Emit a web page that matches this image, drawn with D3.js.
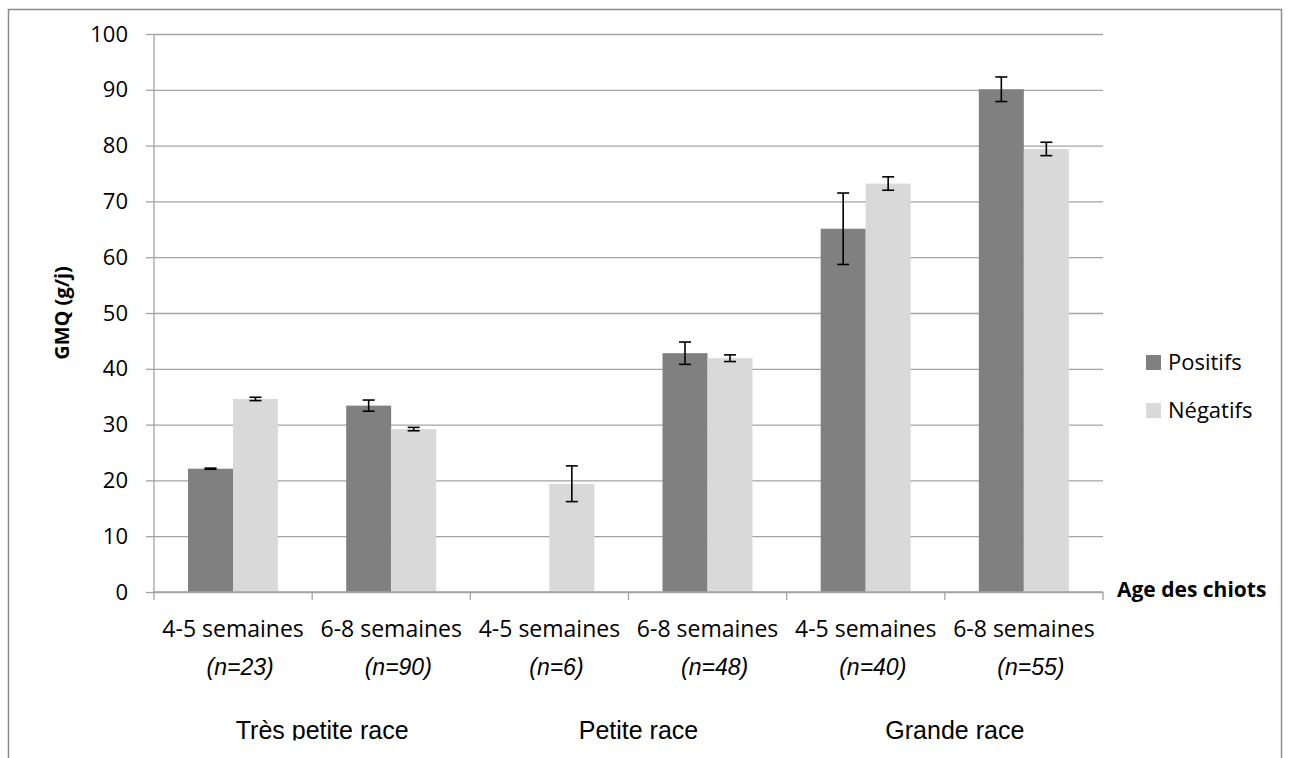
<!DOCTYPE html>
<html>
<head>
<meta charset="utf-8">
<script src="https://d3js.org/d3.v7.min.js"></script>
<title>GMQ des chiots</title>
</head>
<style>
body {
  margin: 0;
  background: white;
}
svg {
  display: block;
}
.tickText {
  font-family: "Open Sans", sans-serif;
  font-size: 22px;
  fill: black;
}
</style>
<body>
<svg width="1290" height="758"></svg>
</body>
<script>

// values
let ageLabels = ["4-5 semaines", "6-8 semaines", "4-5 semaines", "6-8 semaines", "4-5 semaines", "6-8 semaines"];
let nLabels = ["(n=23)", "(n=90)", "(n=6)", "(n=48)", "(n=40)", "(n=55)"];
let raceLabels = ["Très petite race", "Petite race", "Grande race"];
let seriesNames = ["Positifs", "Négatifs"];
let positifs = [22.1, 33.4, null, 42.8, 65.1, 90.1];
let negatifs = [34.6, 29.2, 19.4, 41.9, 73.2, 79.4];
let positifsErr = [0.1, 1.0, null, 2.0, 6.4, 2.2];
let negatifsErr = [0.3, 0.3, 3.2, 0.6, 1.2, 1.2];
let yTicks = [0, 10, 20, 30, 40, 50, 60, 70, 80, 90, 100];
let colors = ["#808080", "#d9d9d9"];

let svg = d3.select("svg");

let plotLeft = 154, plotRight = 1103, plotTop = 34, plotBottom = 592;
let gridColor = "#a3a3a3";

let x = d3.scaleBand()
  .domain(d3.range(ageLabels.length))
  .range([plotLeft, plotRight])
  .padding(0);

let x1 = d3.scaleBand()
  .domain(seriesNames)
  .range([34, 124])
  .padding(0);

let y = d3.scaleLinear()
  .domain([0, 100])
  .range([plotBottom, plotTop]);

function buildData() {
  let rows = [];
  for (let i = 0; i < ageLabels.length; i++) {
    rows.push({cat: i, serie: "Positifs", value: positifs[i], err: positifsErr[i]});
    rows.push({cat: i, serie: "Négatifs", value: negatifs[i], err: negatifsErr[i]});
  }
  return rows.filter(function(d) { return d.value != null; });
}

function drawFrame() {
  svg.append("rect")
    .attr("x", 8.5)
    .attr("y", 9.5)
    .attr("width", 1273)
    .attr("height", 800)
    .attr("fill", "white")
    .attr("stroke", "#8c8c8c")
    .attr("stroke-width", 1.5);
}

function drawGrid() {
  let grid = svg.append("g")
    .attr("transform", "translate(" + plotLeft + ",0)")
    .call(d3.axisLeft(y).tickValues(yTicks).tickSize(-(plotRight - plotLeft)).tickFormat(""));
  grid.select(".domain").remove();
  grid.selectAll("line").attr("stroke", gridColor).attr("stroke-width", 1.3);
}

function drawBars(data) {
  svg.append("g").selectAll("rect")
    .data(data)
    .enter().append("rect")
      .attr("x", function(d) { return x(d.cat) + x1(d.serie); })
      .attr("y", function(d) { return y(d.value); })
      .attr("width", x1.bandwidth())
      .attr("height", function(d) { return y(0) - y(d.value); })
      .attr("fill", function(d) { return colors[seriesNames.indexOf(d.serie)]; });
}

function drawErrors(data) {
  let g = svg.append("g")
    .attr("stroke", "black")
    .attr("stroke-width", 1.6);
  let cx = function(d) { return x(d.cat) + x1(d.serie) + x1.bandwidth() / 2; };
  g.selectAll("line.v")
    .data(data)
    .enter().append("line")
      .attr("class", "v")
      .attr("x1", cx).attr("x2", cx)
      .attr("y1", function(d) { return y(d.value + d.err); })
      .attr("y2", function(d) { return y(d.value - d.err); });
  [1, -1].forEach(function(s, k) {
    g.selectAll("line.cap" + k)
      .data(data)
      .enter().append("line")
        .attr("class", "cap" + k)
        .attr("x1", function(d) { return cx(d) - 6; })
        .attr("x2", function(d) { return cx(d) + 6; })
        .attr("y1", function(d) { return y(d.value + s * d.err); })
        .attr("y2", function(d) { return y(d.value + s * d.err); });
  });
}

function drawAxes() {
  let yAxis = svg.append("g")
    .attr("transform", "translate(" + plotLeft + ",0)")
    .call(d3.axisLeft(y).tickValues(yTicks).tickSize(8).tickPadding(18));
  yAxis.select(".domain").attr("stroke", gridColor).attr("stroke-width", 1.3)
    .attr("d", "M0," + plotBottom + "V" + plotTop);
  yAxis.selectAll("line").attr("stroke", gridColor).attr("stroke-width", 1.3);
  yAxis.selectAll("text").attr("class", "tickText");

  let xTicks = d3.range(ageLabels.length + 1).map(function(i) {
    return plotLeft + i * x.bandwidth();
  });
  svg.append("line")
    .attr("x1", plotLeft).attr("x2", plotRight)
    .attr("y1", plotBottom).attr("y2", plotBottom)
    .attr("stroke", gridColor).attr("stroke-width", 1.3);
  svg.append("g").selectAll("line")
    .data(xTicks)
    .enter().append("line")
      .attr("x1", function(d) { return d; })
      .attr("x2", function(d) { return d; })
      .attr("y1", plotBottom).attr("y2", plotBottom + 8)
      .attr("stroke", gridColor).attr("stroke-width", 1.3);

  svg.append("g").selectAll("text")
    .data(ageLabels)
    .enter().append("text")
      .attr("class", "tickText")
      .attr("x", function(d, i) { return x(i) + x.bandwidth() / 2; })
      .attr("y", 637)
      .attr("text-anchor", "middle")
      .style("font-size", "23px")
      .text(function(d) { return d; });

  // the "n" boxes sit a bit right of the category centre in the original
  svg.append("g").selectAll("text")
    .data(nLabels)
    .enter().append("text")
      .attr("x", function(d, i) { return x(i) + x.bandwidth() / 2 + 7; })
      .attr("y", 675)
      .attr("text-anchor", "middle")
      .attr("font-family", "Liberation Sans, Arial, sans-serif")
      .attr("font-style", "italic")
      .attr("font-size", 23)
      .text(function(d) { return d; });

  svg.append("clipPath")
    .attr("id", "raceClip")
    .append("rect")
      .attr("x", 0).attr("y", 700)
      .attr("width", 1290).attr("height", 40.5);

  svg.append("g")
    .attr("clip-path", "url(#raceClip)")
    .selectAll("text")
    .data(raceLabels)
    .enter().append("text")
      .attr("x", function(d, i) { return x(i * 2 + 1) + 10; })
      .attr("y", 738.5)
      .attr("text-anchor", "middle")
      .attr("font-family", "Liberation Sans, Arial, sans-serif")
      .attr("font-size", 25)
      .text(function(d) { return d; });

  svg.append("text")
    .attr("transform", "translate(69,313) rotate(-90)")
    .attr("text-anchor", "middle")
    .attr("font-family", "Open Sans, sans-serif")
    .attr("font-weight", "bold")
    .attr("font-size", 20)
    .text("GMQ (g/j)");

  svg.append("text")
    .attr("x", 1117)
    .attr("y", 597)
    .attr("font-family", "Open Sans, sans-serif")
    .attr("font-weight", "bold")
    .attr("font-size", 21)
    .text("Age des chiots");
}

function drawLegend() {
  let item = svg.append("g").selectAll("g")
    .data(seriesNames)
    .enter().append("g")
      .attr("transform", function(d, i) { return "translate(1146," + (355 + i * 48) + ")"; });
  item.append("rect")
    .attr("width", 15).attr("height", 15)
    .attr("fill", function(d, i) { return colors[i]; });
  item.append("text")
    .attr("class", "tickText")
    .attr("x", 22)
    .attr("y", 15)
    .text(function(d) { return d; });
}

function drawAll() {
  let data = buildData();
  drawFrame();
  drawGrid();
  drawBars(data);
  drawErrors(data);
  drawAxes();
  drawLegend();
}

drawAll();

</script>
</html>
